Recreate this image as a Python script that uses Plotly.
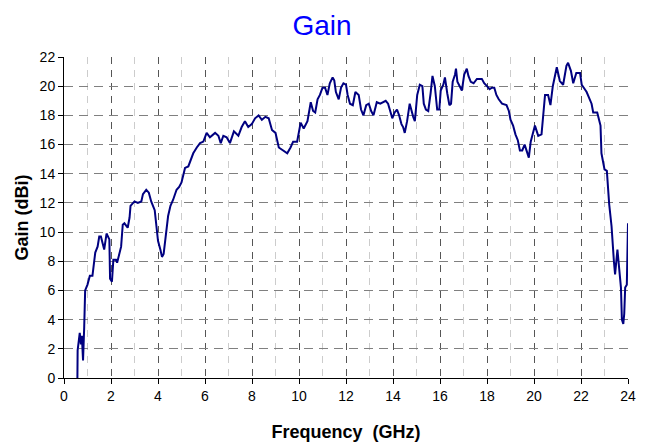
import plotly.graph_objects as go

freq = [0.57, 0.58, 0.67, 0.72, 0.76, 0.81, 0.86, 0.9, 1.0, 1.1, 1.21, 1.26, 1.33, 1.43, 1.5, 1.57, 1.64, 1.71, 1.81, 1.93,
        1.96, 2.04, 2.1, 2.21, 2.26, 2.36, 2.43, 2.5, 2.57, 2.71, 2.79, 2.83, 2.93, 3.0, 3.14, 3.29, 3.36, 3.5, 3.61, 3.71,
        3.86, 3.93, 4.0, 4.1, 4.17, 4.24, 4.33, 4.43, 4.53, 4.64, 4.79, 4.9, 5.0, 5.15, 5.29, 5.5, 5.65, 5.79, 5.93, 6.07,
        6.21, 6.43, 6.57, 6.67, 6.78, 6.92, 7.06, 7.23, 7.42, 7.56, 7.70, 7.84, 7.99, 8.13, 8.28, 8.42, 8.57, 8.71, 8.85, 9.0,
        9.14, 9.35, 9.5, 9.64, 9.75, 9.92, 10.0, 10.07, 10.2, 10.36, 10.5, 10.6, 10.69, 10.79, 10.89, 11.0, 11.11, 11.21, 11.31, 11.43,
        11.5, 11.57, 11.69, 11.79, 11.89, 12.0, 12.07, 12.17, 12.29, 12.4, 12.54, 12.64, 12.74, 12.86, 12.97, 13.07, 13.17, 13.31, 13.46, 13.57,
        13.69, 13.79, 13.89, 13.97, 14.07, 14.17, 14.26, 14.36, 14.43, 14.5, 14.6, 14.71, 14.86, 14.93, 15.03, 15.14, 15.25, 15.31, 15.4, 15.5,
        15.6, 15.68, 15.78, 15.88, 15.97, 16.03, 16.14, 16.21, 16.31, 16.4, 16.47, 16.54, 16.64, 16.68, 16.74, 16.83, 16.93, 17.03, 17.14, 17.21,
        17.31, 17.43, 17.57, 17.78, 17.88, 18.0, 18.11, 18.21, 18.31, 18.4, 18.5, 18.64, 18.83, 18.93, 19.0, 19.11, 19.21, 19.31, 19.4, 19.5,
        19.6, 19.68, 19.78, 19.86, 20.04, 20.18, 20.32, 20.47, 20.6, 20.7, 20.8, 20.97, 21.1, 21.24, 21.38, 21.45, 21.57, 21.67, 21.8, 21.96,
        22.03, 22.24, 22.45, 22.52, 22.69, 22.83, 22.87, 23.0, 23.1, 23.2, 23.3, 23.4, 23.45, 23.55, 23.6, 23.66, 23.7, 23.74, 23.8, 23.84,
        23.88, 23.95, 23.97, 24.0]

gain = [0.0, 1.9, 3.1, 2.3, 2.9, 1.2, 3.5, 6.0, 6.4, 7.0, 7.0, 7.9, 8.6, 9.0, 9.7, 9.7, 9.15, 8.8, 9.9, 9.5,
        6.8, 6.6, 8.1, 8.1, 7.9, 8.6, 9.0, 10.5, 10.6, 10.3, 11.0, 11.8, 12.0, 12.1, 12.0, 12.1, 12.6, 12.9, 12.7, 12.1,
        11.5, 10.6, 9.4, 8.8, 8.3, 8.5, 9.6, 11.1, 11.8, 12.2, 12.9, 13.1, 13.4, 14.4, 14.5, 15.4, 15.8, 16.1, 16.2, 16.8,
        16.5, 16.8, 16.6, 16.1, 16.6, 16.5, 16.1, 16.9, 16.6, 17.2, 17.6, 17.2, 17.4, 17.8, 18.0, 17.7, 17.9, 17.8, 17.0, 16.8,
        15.8, 15.6, 15.4, 15.8, 16.2, 16.2, 16.8, 17.5, 17.1, 17.6, 18.9, 18.3, 18.2, 19.1, 19.4, 19.9, 19.9, 19.4, 20.2, 20.6,
        20.4, 19.6, 19.1, 19.9, 20.2, 20.1, 19.4, 18.8, 18.7, 19.6, 19.4, 18.4, 18.0, 18.7, 18.8, 18.3, 18.0, 18.9, 18.8, 18.9,
        19.0, 18.8, 18.3, 17.8, 18.2, 18.4, 18.0, 17.4, 17.2, 16.8, 17.6, 18.8, 17.9, 17.6, 19.4, 20.1, 20.0, 18.8, 18.4, 18.3,
        19.5, 20.7, 20.0, 18.4, 18.4, 19.7, 20.1, 20.6, 19.5, 18.7, 18.8, 20.3, 20.8, 21.2, 20.3, 20.0, 19.7, 20.8, 21.2, 20.7,
        20.3, 20.2, 20.5, 20.5, 20.2, 20.0, 19.8, 19.9, 19.9, 19.4, 19.1, 18.8, 18.7, 18.3, 17.7, 17.3, 16.7, 16.3, 15.6, 15.6,
        16.0, 15.6, 15.1, 16.2, 17.3, 16.6, 16.7, 19.4, 19.4, 18.7, 20.0, 21.3, 20.35, 20.1, 21.4, 21.6, 21.05, 20.2, 20.9, 20.9,
        20.1, 19.6, 18.8, 18.2, 18.2, 17.3, 15.4, 14.3, 14.2, 11.9, 10.4, 8.0, 7.1, 8.8, 7.9, 7.3, 6.2, 4.0, 3.7, 4.4,
        6.2, 6.4, 10.0, 10.6]

x_ticks = [0, 2, 4, 6, 8, 10, 12, 14, 16, 18, 20, 22, 24]
y_ticks = [0, 2, 4, 6, 8, 10, 12, 14, 16, 18, 20, 22]

FONT = "Liberation Sans, Arial, sans-serif"

fig = go.Figure()
fig.add_trace(go.Scatter(x=freq, y=gain, mode="lines",
                         line=dict(color="#000080", width=2), showlegend=False))

# page body has an 8px default margin; figure is sized to fill the rest of the window
fig.update_layout(
    width=637, height=436,
    margin=dict(l=56, r=17, t=49, b=66, autoexpand=False),
    paper_bgcolor="white", plot_bgcolor="white",
    font=dict(family=FONT, size=13, color="black"),
    title=dict(text="Gain", x=314 / 637, xref="container", xanchor="center",
               y=1 - 17 / 436, yref="container", yanchor="middle",
               font=dict(family=FONT, size=28, color="#0000FF")),
)

fig.update_xaxes(
    range=[0, 24], tickvals=x_ticks, ticktext=[str(v) for v in x_ticks],
    showline=True, linecolor="black", linewidth=1,
    ticks="outside", ticklen=5, tickcolor="black",
    showgrid=True, gridcolor="#555555", griddash="7px,6px", gridwidth=1,
    minor=dict(dtick=1, tick0=0, showgrid=True, gridcolor="#cccccc", griddash="7px,6px", gridwidth=1),
    zeroline=False, automargin=False,
    title=dict(text="<b>Frequency&nbsp;&nbsp;(GHz)</b>", font=dict(family=FONT, size=18), standoff=22),
    tickfont=dict(family=FONT, size=14),
)
fig.update_yaxes(
    range=[0, 22], tickvals=y_ticks, ticktext=[str(v) for v in y_ticks],
    showline=True, linecolor="black", linewidth=1,
    ticks="outside", ticklen=5, tickcolor="black",
    showgrid=True, gridcolor="#808080", griddash="9px,6px", gridwidth=1,
    zeroline=False, automargin=False,
    title=dict(text="<b>Gain (dBi)</b>", font=dict(family=FONT, size=18), standoff=6),
    tickfont=dict(family=FONT, size=14),
)

fig.write_html("out.html")
